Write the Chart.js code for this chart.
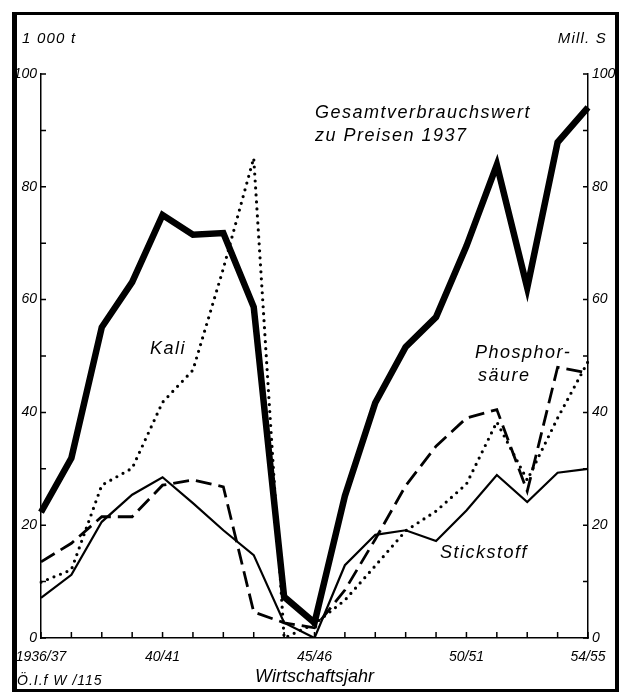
<!DOCTYPE html>
<html>
<head>
<meta charset="utf-8">
<script src="https://cdn.jsdelivr.net/npm/chart.js@4"></script>
<style>
  body { margin: 0; background: #fff; }
  canvas { display: block; }
</style>
</head>
<body>
<canvas id="chart" width="619" height="694"></canvas>
<script>
// Wirtschaftsjahre 1936/37 .. 1954/55
const years = ["1936/37", "37/38", "38/39", "39/40", "40/41", "41/42", "42/43", "43/44", "44/45", "45/46",
               "46/47", "47/48", "48/49", "49/50", "50/51", "51/52", "52/53", "53/54", "54/55"];
const shownYears = ["1936/37", "40/41", "45/46", "50/51", "54/55"];

// Mill. S (right axis)
const gesamtwert = [22.3, 31.9, 55.1, 63.1, 75.0, 71.5, 71.8, 58.7, 7.3, 2.7,
                    25.2, 41.7, 51.6, 56.9, 69.5, 83.9, 62.1, 87.9, 94.1];
// 1000 t (left axis)
const kali = [9.9, 12.1, 27.1, 30.1, 41.8, 47.5, 65.5, 85.1, 0, 2.5,
              6.7, 12.8, 19.0, 22.5, 27.3, 38.3, 28.0, 39.0, 49.0];
const phosphorsaeure = [13.5, 16.8, 21.5, 21.5, 27.1, 28.0, 26.8, 4.6, 2.7, 1.8,
                        8.5, 17.5, 27.0, 34.0, 39.0, 40.5, 26.0, 48.0, 47.0];
const stickstoff = [7.1, 11.2, 20.6, 25.4, 28.5, 23.9, 19.1, 14.7, 2.7, 0,
                    12.9, 18.3, 19.1, 17.2, 22.6, 28.9, 24.1, 29.3, 30.0];

const axisMin = 0, axisMax = 100, minorStep = 10, labelStep = 20;

const FONT = "'Liberation Sans', Arial, sans-serif";
const tickFont = { family: FONT, size: 14, style: "italic" };

// frame, inward tick marks and the hand lettering
const paper = {
    id: "paper",
    beforeDraw(chart) {
        const ctx = chart.ctx;
        ctx.save();
        ctx.fillStyle = "#fff";
        ctx.fillRect(0, 0, chart.width, chart.height);
        ctx.fillStyle = "#000";
        ctx.fillRect(12, 12, 5, 680);   // left
        ctx.fillRect(12, 12, 607, 3);   // top
        ctx.fillRect(615, 12, 4, 680);  // right
        ctx.fillRect(12, 689, 607, 3);  // bottom
        ctx.restore();
    },
    afterDraw(chart) {
        const ctx = chart.ctx;
        const { x, y, y2 } = chart.scales;
        ctx.save();
        ctx.strokeStyle = "#000";
        ctx.lineWidth = 1.5;
        ctx.beginPath();
        for (let v = axisMin; v <= axisMax; v += minorStep) {
            const py = y.getPixelForValue(v);
            ctx.moveTo(y.right, py); ctx.lineTo(y.right + 5, py);
            const py2 = y2.getPixelForValue(v);
            ctx.moveTo(y2.left, py2); ctx.lineTo(y2.left - 5, py2);
        }
        years.forEach((_, i) => {
            const px = x.getPixelForValue(i);
            ctx.moveTo(px, x.top); ctx.lineTo(px, x.top - 6);
        });
        ctx.stroke();

        ctx.fillStyle = "#000";
        ctx.textBaseline = "middle";
        ctx.letterSpacing = "1.2px";
        ctx.font = "italic 15px " + FONT;
        ctx.textAlign = "left";
        ctx.fillText("1 000 t", 22, 39);
        ctx.textAlign = "right";
        ctx.fillText("Mill. S", 607, 39);

        ctx.textAlign = "left";
        ctx.letterSpacing = "1.5px";
        ctx.font = "italic 18px " + FONT;
        ctx.fillText("Gesamtverbrauchswert", 315, 113);
        ctx.fillText("zu Preisen 1937", 315, 136);
        ctx.fillText("Kali", 150, 349);
        ctx.fillText("Phosphor-", 475, 353);
        ctx.fillText("säure", 478, 376);
        ctx.fillText("Stickstoff", 440, 553);

        ctx.letterSpacing = "1px";
        ctx.font = "italic 14px " + FONT;
        ctx.fillText("Ö.I.f W /115", 17, 681);
        ctx.restore();
    }
};

const yAxis = (position, width) => ({
    position,
    min: axisMin,
    max: axisMax,
    grid: { display: false, drawTicks: false },
    border: { display: true, color: "#000", width: 1.5 },
    ticks: {
        stepSize: minorStep,
        padding: 4,
        color: "#000",
        font: tickFont,
        callback: v => (v % labelStep === 0 ? v : "")
    },
    afterFit(scale) { scale.width = width; }
});

new Chart(document.getElementById("chart").getContext("2d"), {
    type: "line",
    data: {
        labels: years,
        datasets: [
            { label: "Gesamtverbrauchswert", data: gesamtwert, yAxisID: "y2",
              borderColor: "#000", borderWidth: 6.5, borderJoinStyle: "miter" },
            { label: "Kali", data: kali, yAxisID: "y",
              borderColor: "#000", borderWidth: 3.2, borderDash: [0, 7], borderCapStyle: "round" },
            { label: "Phosphorsäure", data: phosphorsaeure, yAxisID: "y",
              borderColor: "#000", borderWidth: 2.8, borderDash: [16, 7] },
            { label: "Stickstoff", data: stickstoff, yAxisID: "y",
              borderColor: "#000", borderWidth: 2.2 }
        ]
    },
    options: {
        responsive: false,
        animation: false,
        layout: { padding: { left: 17, right: 4, top: 74, bottom: 0 } },
        plugins: { legend: { display: false }, tooltip: { enabled: false } },
        elements: { point: { radius: 0 }, line: { tension: 0, fill: false } },
        scales: {
            x: {
                type: "category",
                offset: false,
                grid: { display: false, drawTicks: false },
                border: { display: true, color: "#000", width: 1.5 },
                ticks: {
                    autoSkip: false,
                    maxRotation: 0,
                    padding: 11,
                    color: "#000",
                    font: tickFont,
                    callback: (v, i) => (shownYears.includes(years[i]) ? years[i] : "")
                },
                title: {
                    display: true,
                    text: "Wirtschaftsjahr",
                    color: "#000",
                    font: { family: FONT, size: 18, style: "italic" },
                    padding: { top: 0, bottom: 6 }
                },
                afterFit(scale) { scale.height = 56; }
            },
            y: yAxis("left", 24),
            y2: yAxis("right", 27)
        }
    },
    plugins: [paper]
});
</script>
</body>
</html>
